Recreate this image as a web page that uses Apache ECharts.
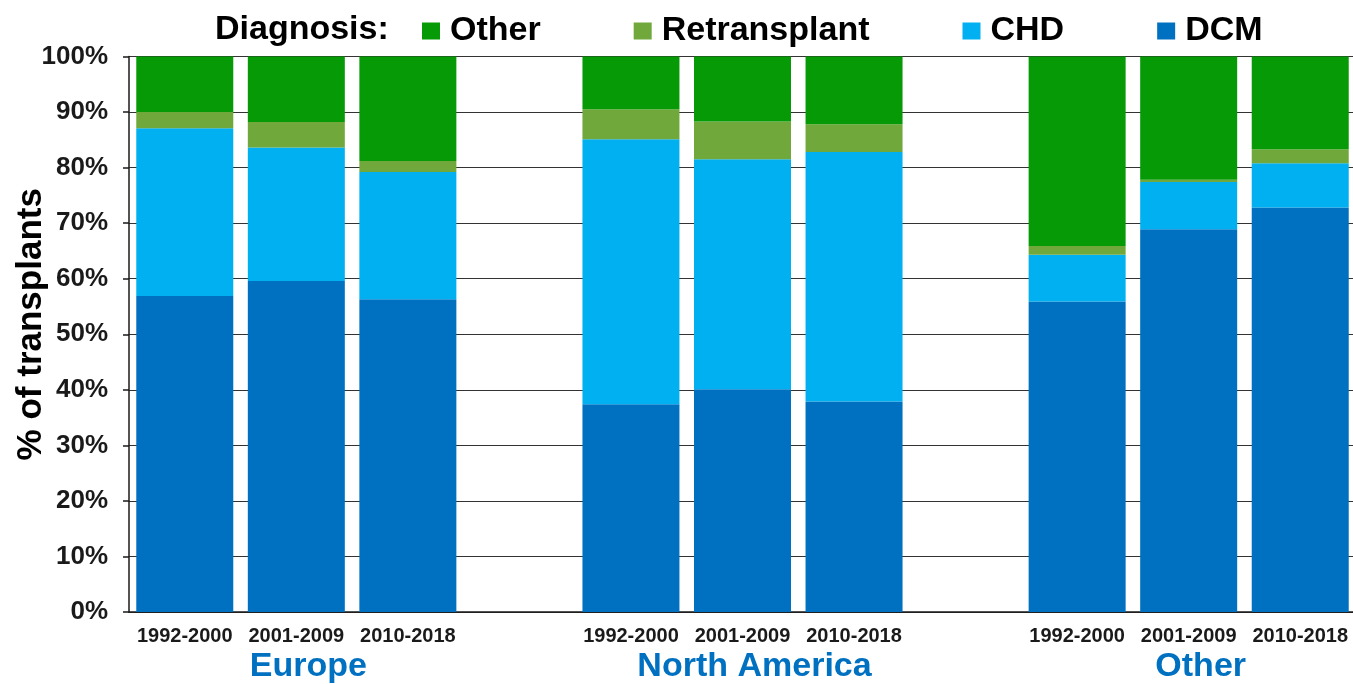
<!DOCTYPE html>
<html>
<head>
<meta charset="utf-8">
<title>Diagnosis of transplants by era and region</title>
<script src="https://cdn.jsdelivr.net/npm/echarts@6/dist/echarts.min.js"></script>
<style>
  html, body { margin: 0; padding: 0; background: #ffffff; }
  #chart { width: 1353px; height: 684px; }
</style>
</head>
<body>
<div id="chart"></div>
<script>
// Regions and eras along the x axis (a blank slot separates the regions)
const regions = ['Europe', 'North America', 'Other'];
const periods = ['1992-2000', '2001-2009', '2010-2018'];

// Share of transplants (%) per diagnosis, one value per region/era, in order:
// Europe x3, North America x3, Other x3
const dcm          = [56.9, 59.6, 56.3, 37.4, 40.1, 37.9, 55.9, 68.9, 72.8];
const chd          = [30.2, 24.0, 22.9, 47.7, 41.4, 44.9,  8.4,  8.5,  8.0];
const retransplant = [ 2.9,  4.6,  2.0,  5.4,  6.8,  5.0,  1.6,  0.4,  2.5];
const other        = [10.0, 11.8, 18.8,  9.5, 11.7, 12.2, 34.1, 22.2, 16.7];

const yTicks = [0, 10, 20, 30, 40, 50, 60, 70, 80, 90, 100];

// Build the category slots with a blank gap between regions
const categories = [];
const periodLabel = {};
const regionLabel = {};
const slotIndex = [];
regions.forEach((r, ri) => {
  periods.forEach((p, pi) => {
    const key = r + ' ' + p;
    categories.push(key);
    periodLabel[key] = p;
    regionLabel[key] = pi === 1 ? r : '';
    slotIndex.push(categories.length - 1);
  });
  if (ri < regions.length - 1) {
    const gap = 'gap' + ri;
    categories.push(gap);
    periodLabel[gap] = '';
    regionLabel[gap] = '';
  }
});

function spread(values) {
  const out = categories.map(() => '-');
  values.forEach((v, i) => { out[slotIndex[i]] = v; });
  return out;
}

const font = '"Liberation Sans", Arial, sans-serif';
const colors = {
  DCM: '#0070c0',
  CHD: '#00b0f0',
  Retransplant: '#70a83c',
  Other: '#079a07'
};

const chart = echarts.init(document.getElementById('chart'), null, { renderer: 'canvas' });

const barBase = {
  type: 'bar',
  stack: 'total',
  barWidth: 97,
  xAxisIndex: 0,
  animation: false
};

chart.setOption({
  backgroundColor: '#ffffff',
  animation: false,
  textStyle: { fontFamily: font },
  grid: {
    left: 129, right: -3, top: 56.5, bottom: 72,
    containLabel: false,
    outerBoundsMode: 'none'
  },
  graphic: [{
    type: 'text',
    left: 215,
    top: 13,
    style: {
      text: 'Diagnosis:',
      font: 'bold 34px ' + font,
      fill: '#000000'
    }
  }],
  legend: {
    left: 422,
    top: 14,
    padding: 0,
    data: ['Other', 'Retransplant', 'CHD', 'DCM'],
    icon: 'rect',
    itemWidth: 18,
    itemHeight: 17,
    itemGap: 93,
    textStyle: {
      fontFamily: font,
      fontSize: 34,
      fontWeight: 'bold',
      color: '#000000',
      padding: [0, 0, 0, 5]
    }
  },
  xAxis: [{
    type: 'category',
    data: categories,
    position: 'bottom',
    axisLine: { show: true, lineStyle: { color: '#1a1a1a', width: 1.5 } },
    axisTick: { show: false },
    axisLabel: {
      interval: 0,
      margin: 14,
      fontFamily: font,
      fontSize: 20,
      fontWeight: 'bold',
      color: '#1a1a1a',
      formatter: v => periodLabel[v]
    },
    splitLine: { show: false }
  }, {
    type: 'category',
    data: categories,
    position: 'bottom',
    axisLine: { show: false },
    axisTick: { show: false },
    axisLabel: {
      interval: 0,
      margin: 38,
      fontFamily: font,
      fontSize: 34,
      fontWeight: 'bold',
      color: '#0070c0',
      padding: [0, 0, 0, 24],
      formatter: v => regionLabel[v]
    },
    splitLine: { show: false }
  }],
  yAxis: {
    type: 'value',
    min: yTicks[0],
    max: yTicks[yTicks.length - 1],
    interval: 10,
    name: '% of transplants',
    nameLocation: 'middle',
    nameGap: 80,
    nameMoveOverlap: false,
    nameTextStyle: {
      fontFamily: font,
      fontSize: 35,
      fontWeight: 'bold',
      color: '#000000',
      padding: [0, 0, 0, 20]
    },
    axisLine: { show: true, lineStyle: { color: '#1a1a1a', width: 1.5 } },
    axisTick: { show: true, length: 6, lineStyle: { color: '#1a1a1a', width: 1.5 } },
    axisLabel: {
      margin: 21,
      fontFamily: font,
      fontSize: 26,
      fontWeight: 'bold',
      color: '#1a1a1a',
      formatter: v => v + '%'
    },
    splitLine: { show: true, lineStyle: { color: '#333333', width: 1.2 } }
  },
  series: [
    Object.assign({}, barBase, { name: 'DCM', data: spread(dcm), itemStyle: { color: colors.DCM } }),
    Object.assign({}, barBase, { name: 'CHD', data: spread(chd), itemStyle: { color: colors.CHD } }),
    Object.assign({}, barBase, { name: 'Retransplant', data: spread(retransplant), itemStyle: { color: colors.Retransplant } }),
    Object.assign({}, barBase, { name: 'Other', data: spread(other), itemStyle: { color: colors.Other } })
  ]
});
</script>
</body>
</html>
